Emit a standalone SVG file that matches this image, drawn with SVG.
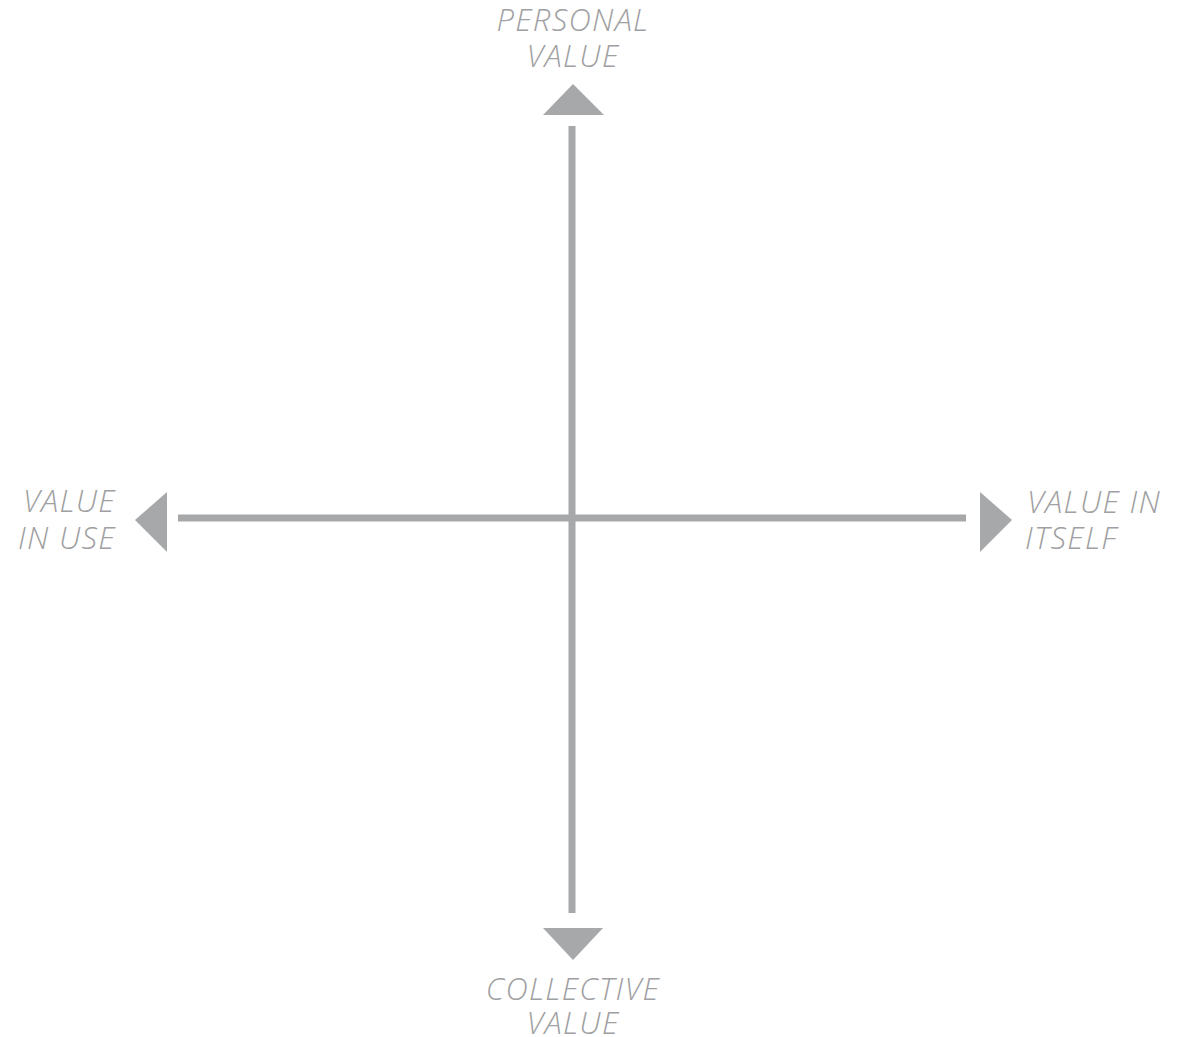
<svg xmlns="http://www.w3.org/2000/svg" width="1186" height="1037" viewBox="0 0 1186 1037">
<style>
.ax{stroke:#a7a8aa;stroke-width:7;fill:none}
.hd{fill:#a7a8aa}
.lb{font-family:"Open Sans","Liberation Sans",sans-serif;font-style:italic;font-weight:300;font-size:31px;letter-spacing:1.3px;fill:#9fa0a2}
</style>
<rect width="1186" height="1037" fill="#ffffff"/>
<g id="connectors">
<line class="ax" x1="572" y1="126" x2="572" y2="913"/>
<line class="ax" x1="178" y1="518" x2="966" y2="518"/>
<polygon class="hd" points="573,84 604,115 543,115"/>
<polygon class="hd" points="543,928 603,928 573,960"/>
<polygon class="hd" points="135,520 167,492 167,552"/>
<polygon class="hd" points="1012,520 980,492 980,552"/>
</g>
<g id="personal">
<text class="lb" x="573" y="31" text-anchor="middle">PERSONAL</text>
<text class="lb" x="573" y="67" text-anchor="middle">VALUE</text>
</g>
<g id="collective">
<text class="lb" x="573" y="1000" text-anchor="middle">COLLECTIVE</text>
<text class="lb" x="573" y="1034" text-anchor="middle">VALUE</text>
</g>
<g id="inuse">
<text class="lb" x="116" y="512" text-anchor="end">VALUE</text>
<text class="lb" x="116" y="549" text-anchor="end">IN USE</text>
</g>
<g id="initself">
<text class="lb" x="1027" y="513">VALUE IN</text>
<text class="lb" x="1025" y="549">ITSELF</text>
</g>
</svg>
